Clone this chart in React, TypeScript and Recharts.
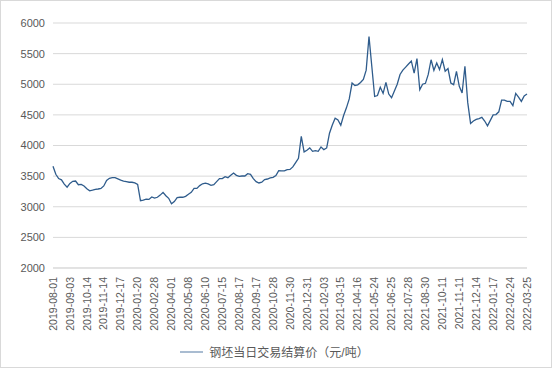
import React from 'react';
import { LineChart, Line, XAxis, YAxis, CartesianGrid, Legend } from 'recharts';

// x tick labels, one every 6 samples
const tickLabels = [
  '2019-08-01', '2019-09-03', '2019-10-14', '2019-11-14', '2019-12-17', '2020-01-20',
  '2020-02-28', '2020-04-01', '2020-05-08', '2020-06-10', '2020-07-15', '2020-08-17',
  '2020-09-17', '2020-10-28', '2020-11-30', '2020-12-31', '2021-02-03', '2021-03-15',
  '2021-04-16', '2021-05-24', '2021-06-25', '2021-07-28', '2021-08-30', '2021-10-11',
  '2021-11-11', '2021-12-14', '2022-01-17', '2022-02-24', '2022-03-25',
];
const STEP = 6;

// 钢坯当日交易结算价, sampled roughly every 4 trading days
const prices2019 = [
  3660, 3530, 3460, 3440, 3370, 3320, 3380, 3415, 3420, 3360, 3365, 3340, 3295, 3260,
  3270, 3285, 3290, 3300, 3340, 3430, 3465, 3475, 3475, 3455, 3435, 3420, 3410, 3400,
  3400, 3390, 3365,
];
const prices2020 = [
  3100, 3110, 3125, 3120, 3160, 3140, 3155, 3190, 3235, 3180, 3138, 3050, 3085, 3150,
  3155, 3155, 3170, 3205, 3235, 3300, 3300, 3345, 3375, 3385, 3372, 3350, 3361, 3410,
  3459, 3459, 3492, 3475, 3513, 3551, 3513, 3497, 3502, 3502, 3540, 3530, 3459, 3410,
  3388, 3400, 3443, 3453, 3470, 3480, 3508, 3590, 3585, 3585, 3606, 3610, 3650, 3720,
  3790, 4150, 3895, 3921,
];
const prices2021 = [
  3960, 3905, 3916, 3905, 3976, 3932, 3960, 4200, 4335, 4445, 4417, 4330, 4490, 4615,
  4760, 5020, 4980, 4990, 5030, 5080, 5230, 5780, 5290, 4800, 4815, 4950, 4850, 5030,
  4840, 4780, 4890, 5000, 5160, 5230, 5280, 5330, 5380, 5180, 5420, 4910, 5000, 5015,
  5160, 5400, 5228, 5348, 5239, 5402, 5212, 5256, 5021, 4994, 5212, 4967, 4858, 5294,
  4700, 4360, 4400, 4425, 4440, 4460, 4400, 4320,
];
const prices2022 = [
  4410, 4500, 4505, 4550, 4740, 4740, 4720, 4720, 4650, 4850, 4790, 4720, 4810, 4840,
];

const prices = [...prices2019, ...prices2020, ...prices2021, ...prices2022];
const data = prices.map((price, i) => ({ i, price }));
const xTicks = tickLabels.map((_, k) => k * STEP);
const yTicks = [2000, 2500, 3000, 3500, 4000, 4500, 5000, 5500, 6000];

const SERIES = '钢坯当日交易结算价（元/吨）';
const FONT = '"Liberation Sans", Arial, "Noto Sans CJK SC", sans-serif';

const DateTick = (props: any) => {
  const { x, y, payload } = props;
  const label = tickLabels[Math.round(payload.value / STEP)] || '';
  return (
    <g transform={`translate(${x},${y + 1})`}>
      <text transform="rotate(-90)" textAnchor="end" dy="0.35em" fontSize={10.5} fill="#595959" fontFamily={FONT}>
        {label}
      </text>
    </g>
  );
};

const LegendBox = () => (
  <div
    style={{
      height: 32, display: 'flex', alignItems: 'center', justifyContent: 'center',
      paddingLeft: 22, paddingBottom: 5, boxSizing: 'border-box', fontFamily: FONT,
    }}
  >
    <svg width={26} height={10} style={{ marginRight: 3 }}>
      <line x1={0} y1={5} x2={23} y2={5} stroke="#8da6c2" strokeWidth={1.5} />
    </svg>
    <span style={{ fontSize: 12, color: '#595959' }}>{SERIES}</span>
  </div>
);

export default function App() {
  return (
    <div style={{ position: 'relative', width: 554, height: 370, background: '#fff' }}>
      <style>{`body{margin:0}`}</style>
      <div
        style={{
          position: 'absolute', left: 0, top: 0, width: 552, height: 368,
          border: '1px solid #d9d9d9', boxSizing: 'border-box', pointerEvents: 'none',
        }}
      />
      <LineChart width={554} height={370} data={data} margin={{ top: 23, right: 27, left: 0, bottom: 0 }}>
        <CartesianGrid vertical={false} stroke="#d9d9d9" />
        <XAxis
          dataKey="i"
          type="number"
          domain={[0, prices.length - 1]}
          ticks={xTicks}
          interval={0}
          height={70}
          tick={<DateTick />}
          tickLine={false}
          axisLine={{ stroke: '#d9d9d9' }}
        />
        <YAxis
          width={53}
          domain={[2000, 6000]}
          ticks={yTicks}
          axisLine={false}
          tickLine={false}
          tick={{ fontSize: 11, fill: '#595959', fontFamily: FONT }}
        />
        <Legend verticalAlign="bottom" content={<LegendBox />} />
        <Line
          type="linear"
          dataKey="price"
          name={SERIES}
          stroke="#2f5c8c"
          strokeWidth={1.3}
          dot={false}
          isAnimationActive={false}
        />
      </LineChart>
    </div>
  );
}
